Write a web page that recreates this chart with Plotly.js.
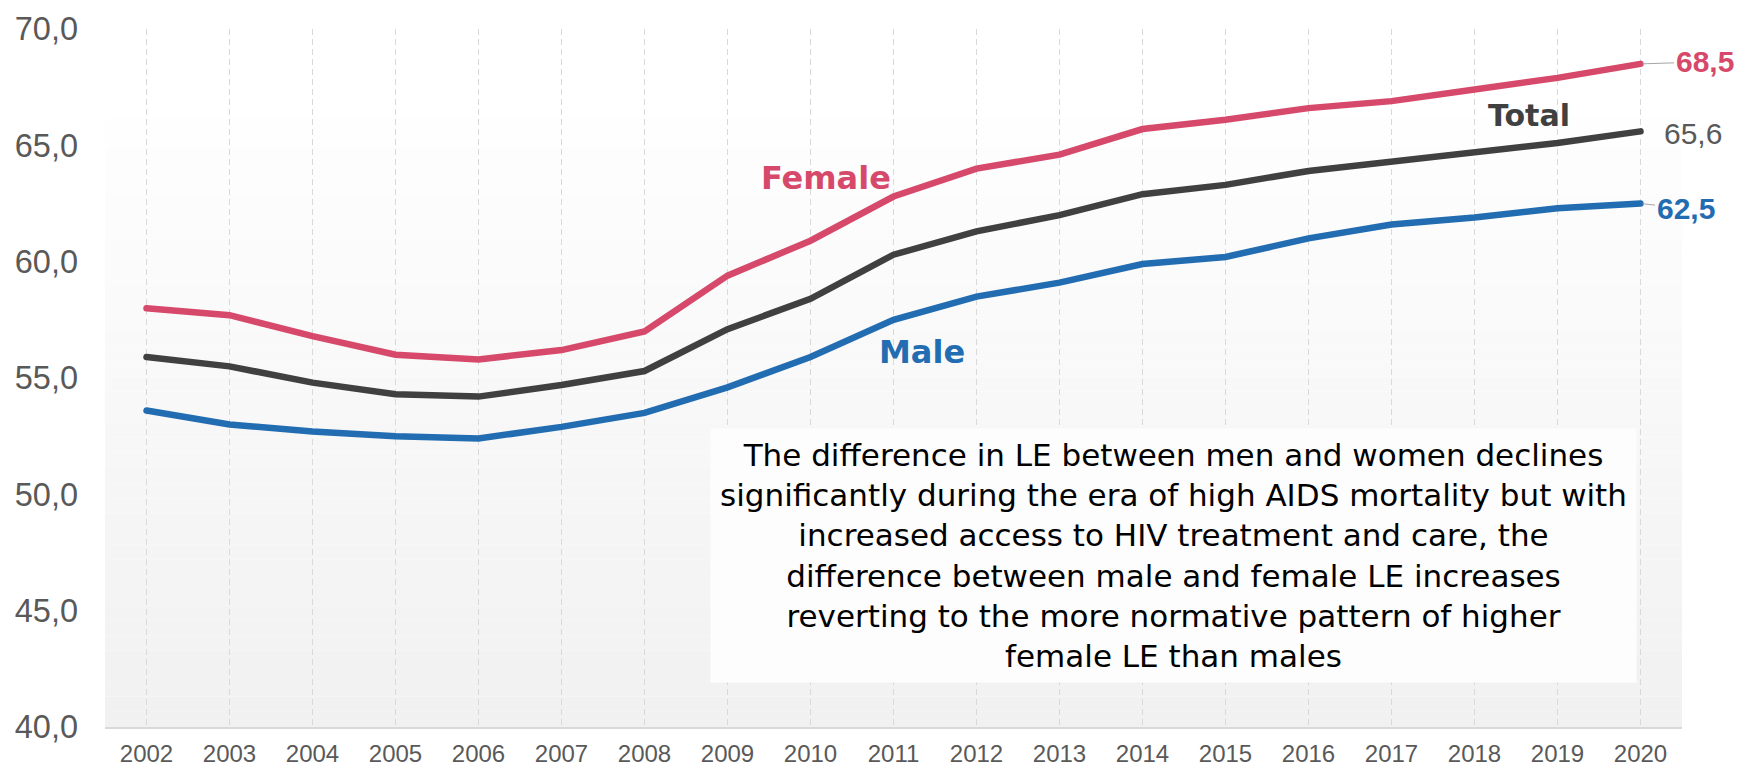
<!DOCTYPE html>
<html>
<head>
<meta charset="utf-8">
<script src="https://cdn.plot.ly/plotly-3.0.1.min.js"></script>
<style>
  html, body { margin: 0; padding: 0; background: #ffffff; }
  #chart { width: 1738px; height: 766px; }
</style>
</head>
<body>
<div id="chart"></div>
<script>
// ---- Data (life expectancy, years) ----
const years  = [2002, 2003, 2004, 2005, 2006, 2007, 2008, 2009, 2010, 2011, 2012, 2013, 2014, 2015, 2016, 2017, 2018, 2019, 2020];
const female = [58.0, 57.7, 56.8, 56.0, 55.8, 56.2, 57.0, 59.4, 60.9, 62.8, 64.0, 64.6, 65.7, 66.1, 66.6, 66.9, 67.4, 67.9, 68.5];
const total  = [55.9, 55.5, 54.8, 54.3, 54.2, 54.7, 55.3, 57.1, 58.4, 60.3, 61.3, 62.0, 62.9, 63.3, 63.9, 64.3, 64.7, 65.1, 65.6];
const male   = [53.6, 53.0, 52.7, 52.5, 52.4, 52.9, 53.5, 54.6, 55.9, 57.5, 58.5, 59.1, 59.9, 60.2, 61.0, 61.6, 61.9, 62.3, 62.5];
const yTicks = [40, 45, 50, 55, 60, 65, 70];
const seriesNames = ["Female", "Total", "Male"];
const noteText = "The difference in LE between men and women declines<br>significantly during the era of high AIDS mortality but with<br>increased access to HIV treatment and care, the<br>difference between male and female LE increases<br>reverting to the more normative pattern of higher<br>female LE than males";

const C_F = "#d6496a", C_T = "#404040", C_M = "#226cb2";
const fmt = v => v.toFixed(1).replace(".", ",");
const last = years.length - 1;

const traces = [
  { x: years, y: female, name: seriesNames[0], mode: "lines", line: { color: C_F, width: 6.5 } },
  { x: years, y: total,  name: seriesNames[1], mode: "lines", line: { color: C_T, width: 6.5 } },
  { x: years, y: male,   name: seriesNames[2], mode: "lines", line: { color: C_M, width: 6.5 } }
];

// gradient plot background (style only)
const shapes = [];
const nb = 40, topFrac = 0.873;
for (let i = 0; i < nb; i++) {
  const t = i / (nb - 1);
  const g = Math.round(241 + (254 - 241) * t);
  shapes.push({ type: "rect", xref: "paper", yref: "paper", layer: "below",
    x0: 0, x1: 1, y0: topFrac * i / nb, y1: topFrac * (i + 1) / nb,
    fillcolor: `rgb(${g},${g},${g})`, line: { width: 0 } });
}

const px = v => (v - 105) / 1577;      // plot-area pixel -> paper x
const py = v => (727.5 - v) / 699;     // plot-area pixel -> paper y

const annotations = [
  // series name labels
  { xref: "paper", yref: "paper", x: px(826), y: py(178), xanchor: "center", yanchor: "middle",
    text: "<b>" + seriesNames[0] + "</b>", showarrow: false, font: { family: "DejaVu Sans", size: 32, color: C_F } },
  { xref: "paper", yref: "paper", x: px(1529), y: py(115), xanchor: "center", yanchor: "middle",
    text: "<b>" + seriesNames[1] + "</b>", showarrow: false, font: { family: "DejaVu Sans", size: 30, color: C_T } },
  { xref: "paper", yref: "paper", x: px(922), y: py(351.5), xanchor: "center", yanchor: "middle",
    text: "<b>" + seriesNames[2] + "</b>", showarrow: false, font: { family: "DejaVu Sans", size: 32, color: C_M } },
  // end value labels
  { x: years[last], y: female[last], text: "<b>" + fmt(female[last]) + "</b>", showarrow: true,
    arrowhead: 0, arrowwidth: 1, arrowcolor: "#a6a6a6", ax: 64, ay: -2, standoff: 2,
    font: { family: "Liberation Sans, Arial", size: 30, color: C_F } },
  { x: years[last], y: total[last], text: fmt(total[last]), showarrow: false, xshift: 52, yshift: -2,
    font: { family: "Liberation Sans, Arial", size: 30, color: "#595959" } },
  { x: years[last], y: male[last], text: "<b>" + fmt(male[last]) + "</b>", showarrow: true,
    arrowhead: 0, arrowwidth: 1, arrowcolor: "#a6a6a6", ax: 45, ay: 5, standoff: 2,
    font: { family: "Liberation Sans, Arial", size: 30, color: C_M } },
  // note box
  { xref: "paper", yref: "paper", x: px(1173.5), y: py(555.5), xanchor: "center", yanchor: "middle",
    text: noteText, showarrow: false, align: "center", width: 925, height: 253, borderpad: 0,
    bgcolor: "#fdfdfd", font: { family: "DejaVu Sans", size: 31, color: "#000000" } }
];

const layout = {
  width: 1738, height: 766,
  margin: { l: 105, r: 56, t: 28.5, b: 38.5 },
  paper_bgcolor: "#ffffff", plot_bgcolor: "#ffffff",
  showlegend: false,
  separators: ",.",
  xaxis: {
    range: [2001.5, 2020.5], tickvals: years, ticktext: years.map(String),
    showgrid: true, gridcolor: "#d9d9d9", gridwidth: 1.4, griddash: "6px,4px",
    showline: true, linecolor: "#d9d9d9", linewidth: 1.5, zeroline: false,
    ticks: "", ticklabelstandoff: 5,
    tickfont: { family: "Liberation Sans, Arial", size: 24, color: "#595959" }
  },
  yaxis: {
    range: [40, 70], tickvals: yTicks, ticktext: yTicks.map(fmt),
    showgrid: false, zeroline: false, showline: false, ticks: "", ticklabelstandoff: 26,
    tickfont: { family: "Liberation Sans, Arial", size: 32.5, color: "#595959" }
  },
  shapes: shapes,
  annotations: annotations
};

Plotly.newPlot("chart", traces, layout, { displayModeBar: false, staticPlot: true }).then(() => {
  document.querySelectorAll(".scatterlayer path.js-line").forEach(p => {
    p.style.strokeLinecap = "round";
  });
});
</script>
</body>
</html>
